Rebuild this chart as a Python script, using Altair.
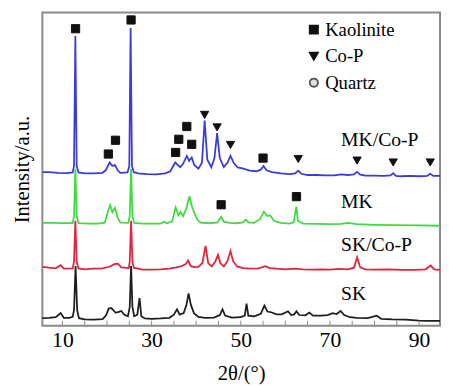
import altair as alt
import pandas as pd

# ---- XRD patterns (2θ in degrees, intensity in a.u., patterns stacked) ----
mkcop_x = [5.5, 7, 9, 11, 12.3, 12.6, 12.9, 13.2, 13.6, 15, 17, 19, 19.7, 20.6, 21.2, 21.8, 22.4, 23, 24.6,
           25.0, 25.3, 25.6, 26.0, 27, 29, 31, 33, 34.2, 35.3, 36.4, 37.0, 37.9, 38.4, 39.0, 39.6, 40.5,
           41.3, 41.9, 42.5, 43.4, 44.1, 44.7, 45.3, 46.2, 47.0, 47.7, 48.4, 49.3, 50.4, 52, 53.5, 54.5,
           55.1, 55.8, 57, 59, 61, 62.2, 62.9, 63.6, 65, 67, 69, 71, 72.5, 74, 75.4, 76.1, 76.8, 78, 80,
           82, 83.6, 84.2, 84.8, 86, 88, 90, 91.8, 92.5, 93.2, 94.7]
mkcop_y = [49.0, 49.0, 48.8, 48.7, 48.9, 51.0, 92.5, 51.0, 48.9, 48.6, 48.6, 48.8, 49.6, 52.1, 51.0, 51.3, 49.6, 48.8, 48.9,
           51.0, 95.0, 51.0, 49.0, 48.6, 48.4, 48.3, 48.6, 49.3, 52.1, 50.6, 51.5, 54.2, 52.6, 53.7, 51.2, 50.1,
           52.0, 65.5, 53.0, 50.6, 53.5, 61.5, 53.5, 50.6, 52.0, 54.2, 52.0, 50.5, 50.2, 49.5, 49.3, 49.8,
           51.0, 49.6, 49.0, 48.6, 48.4, 48.6, 49.5, 48.5, 48.1, 48.1, 48.0, 48.0, 48.3, 48.1, 48.3, 49.1, 48.2, 47.9, 47.9,
           47.8, 48.0, 48.7, 47.8, 47.7, 47.8, 47.7, 47.8, 48.5, 47.8, 47.8]

mk_x = [5.5, 8, 10, 12.3, 12.6, 12.9, 13.2, 13.6, 16, 18, 19.5, 20.1, 20.7, 21.2, 21.8, 22.4, 23.0, 24.8,
        25.1, 25.4, 25.7, 26.1, 28, 30, 32, 32.8, 33.5, 34.6, 35.4, 36.0, 36.5, 37.1, 37.8, 38.5, 39.1,
        39.6, 40.3, 41, 43, 44.8, 45.6, 46.2, 47.5, 49, 50.5, 51.1, 51.7, 53, 54.3, 55.2, 55.9, 56.6, 57.5,
        59, 61, 61.9, 62.3, 62.5, 62.8, 64, 67, 70, 72.5, 74, 76, 80, 85, 90, 94.7]
mk_y = [32.8, 32.8, 32.7, 32.7, 35.0, 50.0, 35.0, 32.7, 32.6, 32.6, 32.9, 36.0, 38.5, 36.2, 37.6, 34.5, 32.9, 32.8,
        35.0, 50.0, 35.0, 32.8, 32.6, 32.6, 32.6, 33.2, 32.7, 33.3, 37.7, 35.2, 36.3, 35.0, 37.5, 41.3, 37.8,
        36.0, 33.8, 32.9, 32.7, 33.0, 34.7, 33.2, 32.8, 32.7, 33.0, 33.9, 33.0, 32.8, 34.0, 36.4, 35.0, 35.2, 33.4,
        32.8, 32.6, 33.0, 36.8, 38.0, 33.5, 32.6, 32.5, 32.4, 32.5, 32.8, 32.4, 32.2, 32.1, 32.0, 31.9]

skcop_x = [5.5, 7, 8.5, 9.6, 10.3, 12.3, 12.6, 12.9, 13.2, 13.6, 15, 17, 19, 20.5, 21.8, 22.5, 23.2, 24.9,
           25.1, 25.4, 25.7, 26.0, 28, 30, 32, 34, 35.5, 36.5, 37.6, 38.2, 38.8, 39.6, 40.5, 41.4, 42.1,
           42.7, 43.5, 44.3, 44.9, 45.4, 46.2, 47.0, 47.7, 48.3, 49.2, 50.5, 52, 54, 55.5, 56.5, 58, 60, 62,
           64, 66, 68, 70, 72, 74, 75.4, 76.1, 76.8, 78, 80, 83, 86, 89, 91.5, 92.6, 93.4, 94.7]
skcop_y = [18.8, 18.5, 18.3, 19.3, 18.2, 18.3, 20.5, 33.5, 20.5, 18.3, 18.0, 18.2, 18.3, 18.8, 19.7, 19.7, 18.6, 18.4,
           20.5, 33.5, 20.5, 18.5, 17.9, 17.9, 18.0, 18.2, 18.6, 18.9, 19.6, 20.8, 19.0, 18.7, 18.8, 20.0, 25.5,
           20.0, 18.9, 20.5, 22.6, 20.0, 18.9, 20.5, 23.8, 20.5, 18.9, 18.4, 18.2, 18.3, 19.0, 18.4, 18.2, 18.0, 18.2,
           18.0, 17.9, 18.0, 17.9, 18.1, 18.0, 18.5, 21.8, 18.6, 18.0, 17.9, 18.0, 17.8, 17.8, 18.0, 19.2, 18.0, 17.8]

sk_x = [5.5, 7, 8.5, 9.6, 10.3, 11.5, 12.3, 12.6, 12.95, 13.3, 13.7, 15, 17, 19, 19.8, 20.4, 21.0, 21.9, 22.5,
        23.2, 23.9, 24.7, 25.1, 25.4, 25.7, 26.1, 26.8, 27.3, 27.7, 28.5, 30, 32, 34, 35.0, 35.7, 36.3, 37.2,
        37.8, 38.3, 38.8, 39.5, 40.5, 42, 44, 45.3, 45.9, 46.5, 48, 50, 50.9, 51.3, 51.7, 53, 54.5, 55.3, 56,
        57, 58, 59.2, 60.6, 61.3, 62.0, 62.5, 63.1, 64.5, 65.4, 66.2, 68, 69.5, 70.6, 71.5, 72.4, 73.2, 74.5,
        76, 78.5, 80.5, 81.5, 84, 87, 90, 92, 94.7]
sk_y = [2.4, 2.5, 2.7, 4.0, 2.5, 2.5, 2.8, 5.0, 19.0, 5.0, 2.4, 2.0, 1.9, 2.1, 3.3, 5.5, 5.6, 4.2, 4.3,
        4.7, 3.5, 3.0, 6.0, 19.0, 6.0, 3.0, 3.5, 8.8, 3.0, 2.3, 2.2, 2.3, 2.5, 3.5, 5.2, 3.5, 4.0,
        6.5, 10.3, 6.7, 4.0, 2.8, 2.5, 2.6, 3.4, 5.2, 3.2, 2.6, 2.7, 3.2, 7.0, 3.2, 3.0, 3.8, 6.4, 4.5,
        4.2, 3.6, 3.6, 4.6, 3.4, 3.6, 4.6, 3.4, 3.3, 4.2, 3.2, 3.2, 3.4, 4.0, 3.7, 4.7, 3.4, 2.7,
        2.5, 2.4, 3.2, 2.2, 2.0, 1.9, 1.6, 1.5, 1.5]

series_names = ["SK", "SK/Co-P", "MK", "MK/Co-P"]          # drawing order, bottom first
series_colors = ["#1e1e1e", "#e3223c", "#3fdc3f", "#3b3bdc"]
series_data = [(sk_x, sk_y), (skcop_x, skcop_y), (mk_x, mk_y), (mkcop_x, mkcop_y)]

# ---- phase markers ----
phases = ["Kaolinite", "Co-P", "Quartz"]
marker_phase = ["Kaolinite"] * 11 + ["Co-P"] * 7
marker_x = [12.95, 25.4, 20.3, 21.9, 35.4, 36.1, 37.9, 39.0, 55.0, 45.6, 62.5,
            41.9, 44.7, 47.7, 62.9, 76.1, 84.2, 92.5]
marker_y = [94.8, 97.6, 54.8, 59.2, 55.3, 59.5, 63.6, 57.9, 53.5, 38.6, 41.2,
            67.3, 63.3, 57.7, 53.2, 52.7, 52.1, 52.1]

# ---- curve labels ----
label_text = ["MK/Co-P", "MK", "SK/Co-P", "SK"]
label_x = [72.5, 72.5, 72.5, 72.5]
label_y = [59.2, 39.5, 25.7, 10.0]

minor_ticks = list(range(10, 95, 5))

FONT = "Liberation Serif, Times New Roman, serif"
W, H = 405, 319
xscale = alt.Scale(domain=[5.5, 94.7], nice=False, zero=False)
yscale = alt.Scale(domain=[0, 100], nice=False, zero=False)

layers = []
for i, (name, color, (xs, ys)) in enumerate(zip(series_names, series_colors, series_data)):
    d = pd.DataFrame({"two_theta": xs, "intensity": ys, "order": list(range(len(xs)))})
    if i == 0:
        xenc = alt.X("two_theta:Q", scale=xscale,
                     axis=alt.Axis(values=[10, 30, 50, 70, 90], title="2θ/(°)", ticks=False,
                                   domain=False, grid=False, labelPadding=4, labelFlush=False,
                                   titlePadding=13, labelFont=FONT, titleFont=FONT))
        yenc = alt.Y("intensity:Q", scale=yscale,
                     axis=alt.Axis(title="Intensity/a.u.", labels=False, ticks=False, domain=False,
                                   grid=False, titlePadding=10, titleFont=FONT))
    else:
        xenc = alt.X("two_theta:Q", scale=xscale)
        yenc = alt.Y("intensity:Q", scale=yscale)
    layers.append(alt.Chart(d).mark_line(color=color, strokeWidth=1.8).encode(
        x=xenc, y=yenc, order="order:Q"))

ticks_df = pd.DataFrame({"t": minor_ticks})
layers.append(alt.Chart(ticks_df).mark_rule(color="#8a8a8a", strokeWidth=1).encode(
    x=alt.X("t:Q", scale=xscale), y=alt.value(H), y2=alt.value(H - 5)))

mk_df = pd.DataFrame({"two_theta": marker_x, "intensity": marker_y, "phase": marker_phase})
leg = alt.Legend(title=None, orient="none", legendX=267, legendY=8, labelFont=FONT,
                 symbolSize=70, rowPadding=7, labelOffset=2, padding=0, symbolStrokeWidth=1.8)
layers.append(alt.Chart(mk_df).mark_point(size=70, opacity=1, strokeWidth=1).encode(
    x=alt.X("two_theta:Q", scale=xscale),
    y=alt.Y("intensity:Q", scale=yscale),
    shape=alt.Shape("phase:N", scale=alt.Scale(domain=phases, range=["square", "triangle-down", "circle"]), legend=leg),
    fill=alt.Fill("phase:N", scale=alt.Scale(domain=phases, range=["#111111", "#111111", "#e0e0e0"]), legend=leg),
    stroke=alt.Stroke("phase:N", scale=alt.Scale(domain=phases, range=["#111111", "#111111", "#555555"]), legend=leg),
))

lab_df = pd.DataFrame({"two_theta": label_x, "intensity": label_y, "label": label_text})
layers.append(alt.Chart(lab_df).mark_text(align="left", baseline="middle", font=FONT,
                                          fontSize=20, color="black").encode(
    x=alt.X("two_theta:Q", scale=xscale), y=alt.Y("intensity:Q", scale=yscale), text="label:N"))

chart = alt.layer(*layers).properties(
    width=W, height=H,
    autosize=alt.AutoSizeParams(type="none"),
    padding={"left": 35, "top": 1, "right": 1, "bottom": 62},
    background="white",
).configure(font=FONT).configure_view(
    stroke="#8a8a8a", strokeWidth=2
).configure_axis(
    labelFont=FONT, labelFontSize=22, labelColor="black",
    titleFont=FONT, titleFontSize=21, titleFontWeight="normal", titleColor="black",
).configure_legend(
    labelFont=FONT, labelFontSize=19, labelColor="black",
).configure_text(font=FONT)

chart.save("out.html", embed_options={"renderer": "svg", "actions": False})
